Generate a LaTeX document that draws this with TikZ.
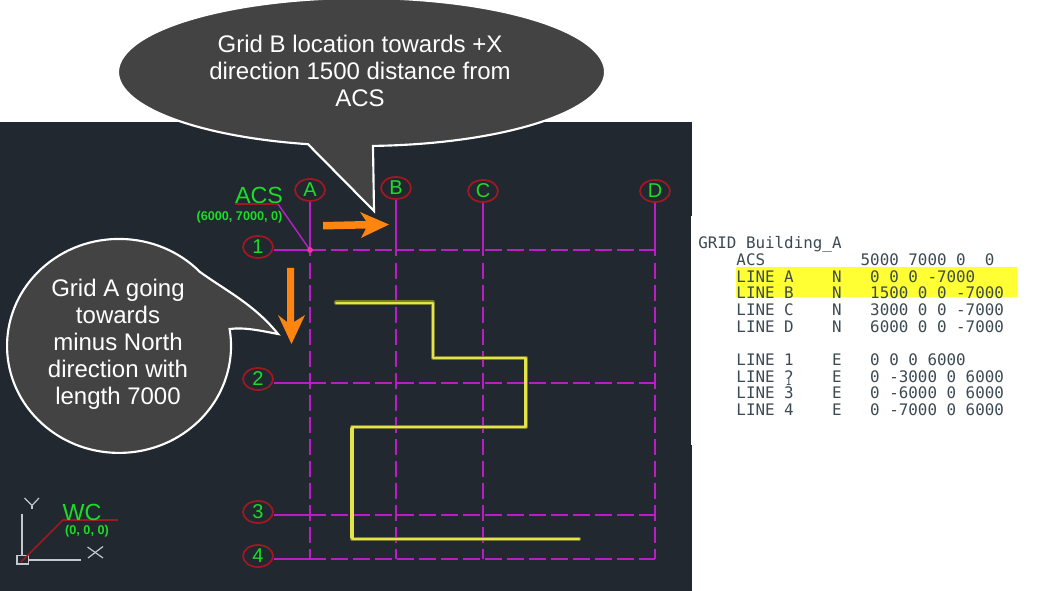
\documentclass[tikz,border=0pt]{standalone}
\usepackage{fontspec}
\setmainfont{Liberation Sans}
\setmonofont{DejaVu Sans Mono}
\usetikzlibrary{shapes.geometric}
\definecolor{cadbg}{HTML}{212830}
\definecolor{bubble}{HTML}{434343}
\definecolor{gridred}{HTML}{A01822}
\definecolor{gridpurple}{HTML}{B81EC4}
\definecolor{labelgreen}{HTML}{1CDC28}
\definecolor{arroworange}{HTML}{FF8410}
\definecolor{monotext}{HTML}{3C4A54}
\definecolor{hilite}{HTML}{FFFF33}
\definecolor{ucsgray}{HTML}{C4C8CC}
\definecolor{polyglow}{HTML}{7C7C30}
\definecolor{polycore}{HTML}{E4E448}
\newcommand{\pxfont}[2]{\fontsize{#1}{#2}\selectfont}
\tikzset{
  x=0.75pt,y=-0.75pt,
  bubbleshape/.style={fill=bubble,draw=white,line width=1.6pt,line join=miter},
  bubbletext/.style={text=white,align=center,font=\pxfont{18}{20.2},inner sep=0pt},
  gridmark/.style={ellipse,draw=gridred,line width=1.3pt,minimum width=22.5pt,minimum height=16.5pt,inner sep=0pt,text=labelgreen,font=\pxfont{15}{15}},
  gridsolid/.style={draw=gridpurple,line width=1.5pt},
  griddash/.style={draw=gridpurple,line width=1.5pt,dash pattern=on 12.5pt off 4pt},
  leader/.style={draw=gridpurple,line width=1.1pt},
  redleader/.style={draw=gridred,line width=1.3pt},
  yellowglow/.style={draw=polyglow,line width=3pt,line join=round,line cap=round},
  yellowcore/.style={draw=polycore,line width=1.5pt,line join=round,line cap=round},
  orangearrow/.style={fill=arroworange,draw=none},
  ucs/.style={draw=ucsgray,line width=0.9pt},
  monoline/.style={anchor=west,inner sep=0pt,text=monotext,font=\ttfamily\pxfont{11.9}{12}},
  bigcad/.style={text=labelgreen,font=\pxfont{17.5}{17.5},inner sep=0pt},
  smallcad/.style={text=labelgreen,font=\bfseries\pxfont{9.5}{9.5},inner sep=0pt},
}
\begin{document}
\begin{tikzpicture}
\useasboundingbox (0,0) rectangle (1055,591);
\fill[white] (0,0) rectangle (1055,591);
\fill[cadbg] (0,122) rectangle (692,591);
\fill[white] (690.5,216) rectangle (692,445);

% intersections
\coordinate (a1) at (310,250);
\coordinate (b1) at (396,250);
\coordinate (c1) at (483,250);
\coordinate (d1) at (655,250);
\coordinate (a2) at (310,383);
\coordinate (a3) at (310,515);
\coordinate (a4) at (310,559);
\coordinate (b4) at (396,559);
\coordinate (c4) at (483,559);
\coordinate (d4) at (655,559);
\coordinate (d2) at (655,383);
\coordinate (d3) at (655,515);

% grid bubbles
\node[gridmark] (gA) at (310,190) {A};
\node[gridmark] (gB) at (396,188) {B};
\node[gridmark] (gC) at (483,191) {C};
\node[gridmark] (gD) at (655,191) {D};
\node[gridmark] (g1) at (258,247) {1};
\node[gridmark] (g2) at (258,379) {2};
\node[gridmark] (g3) at (258,512) {3};
\node[gridmark] (g4) at (258,556) {4};

% grid lines: solid stub, then dashes
\foreach \m/\t/\b in {gA/a1/a4,gB/b1/b4,gC/c1/c4,gD/d1/d4}{
  \draw[gridsolid] (\m.south) -- ([yshift=-4.5pt]\t);
  \draw[griddash] ([yshift=-9.5pt]\t) -- (\b);
}
\foreach \m/\s/\e in {g1/a1/d1,g2/a2/d2,g3/a3/d3,g4/a4/d4}{
  \draw[gridsolid] (\m.east |- \s) -- ([xshift=12pt]\s);
  \draw[griddash] ([xshift=16pt]\s) -- (\e);
}

% ACS label
\node[bigcad] (acs) at (259,195) {ACS};
\node[smallcad] (acsxy) at (239.5,217) {(6000, 7000, 0)};
\coordinate (acsl) at (235,204);
\coordinate (acsr) at (278,204);
\draw[redleader,line width=1pt] (acsl) -- (acsr);
\draw[leader] (acsr) -- (a1);
\fill[magenta!80!white] (a1) circle (2.2pt);

% polyline in yellow
\foreach \sty in {yellowglow,yellowcore}{
  \draw[\sty] (336,302.5) -- (433,302.5) -- (433,357.5) -- (525.5,357.5) -- (525.5,427) -- (352,427) -- (352,539) -- (579,539);
}
\draw[polycore,line width=2.4pt] (525.5,358) -- (525.5,426);
\draw[polycore,line width=2.4pt] (352,428) -- (352,538);

% orange arrows
\fill[orangearrow] (323,222) -- (366,221) -- (360,212) -- (389,224.5) -- (361,238) -- (366,228.5) -- (323,229.5) -- cycle;
\fill[orangearrow] (287,268) -- (294,268) -- (294,322) -- (305,315) -- (291.5,344) -- (278,315) -- (287,322) -- cycle;

% UCS icon
\draw[ucs] (22,513.5) -- (22,555);
\draw[ucs] (28.5,560) -- (81,560);
\draw[ucs] (17,555.5) rectangle (28.5,564);
\draw[ucs] (24.5,498) -- (32,505.5) -- (39,498);
\draw[ucs] (32,505.5) -- (32,509);
\draw[ucs] (87.5,547) -- (103,558);
\draw[ucs] (88,558) -- (103,546.5);
\coordinate (wco) at (21,562);
\coordinate (wcm) at (63,520);
\coordinate (wce) at (118,520);
\draw[redleader] (wco) -- (wcm) -- (wce);
\node[bigcad] (wc) at (82,512) {WC};
\node[smallcad] (wcxy) at (87,531) {(0, 0, 0)};

% top bubble
\draw[bubbleshape] (308,144.2) arc[start angle=102.7,end angle=447.3,x radius=243.5,y radius=74] -- (374,211) -- cycle;
\node[bubbletext] (topt) at (360,71) {Grid B location towards +X\\direction 1500 distance from\\ACS};

% left bubble
\draw[bubbleshape] (200,272) arc[start angle=316.3,end angle=-9.1,x radius=112,y radius=107]
  .. controls (245,327) and (262,331) .. (278,334)
  .. controls (255,305) and (225,290) .. (200,272) -- cycle;
\node[bubbletext] (leftt) at (118,344) {Grid A going\\towards\\minus North\\direction with\\length 7000};

% listing
\fill[hilite] (736,267) rectangle (1017,297);
\node[monoline] (l0) at (698,244) {GRID Building\_A};
\node[monoline] (l1) at (698,260) {~~~~ACS~~~~~~~~~~5000 7000 0~~0};
\node[monoline] (l2) at (698,276.5) {~~~~LINE A~~~~N~~~0 0 0 -7000};
\node[monoline] (l3) at (698,293) {~~~~LINE B~~~~N~~~1500 0 0 -7000};
\node[monoline] (l4) at (698,310) {~~~~LINE C~~~~N~~~3000 0 0 -7000};
\node[monoline] (l5) at (698,326.5) {~~~~LINE D~~~~N~~~6000 0 0 -7000};
\node[monoline] (l6) at (698,360) {~~~~LINE 1~~~~E~~~0 0 0 6000};
\node[monoline] (l7) at (698,376.5) {~~~~LINE 2~~~~E~~~0 -3000 0 6000};
\fill[white] (783,377.5) rectangle (794,385.5);
\node[monoline] (l8) at (698,393) {~~~~LINE 3~~~~E~~~0 -6000 0 6000};
\node[monoline] (l9) at (698,410) {~~~~LINE 4~~~~E~~~0 -7000 0 6000};
\node[text=monotext,font=\ttfamily\pxfont{7.5}{7.5},inner sep=0pt] (over) at (788.5,381.5) {1};
\end{tikzpicture}
\end{document}
